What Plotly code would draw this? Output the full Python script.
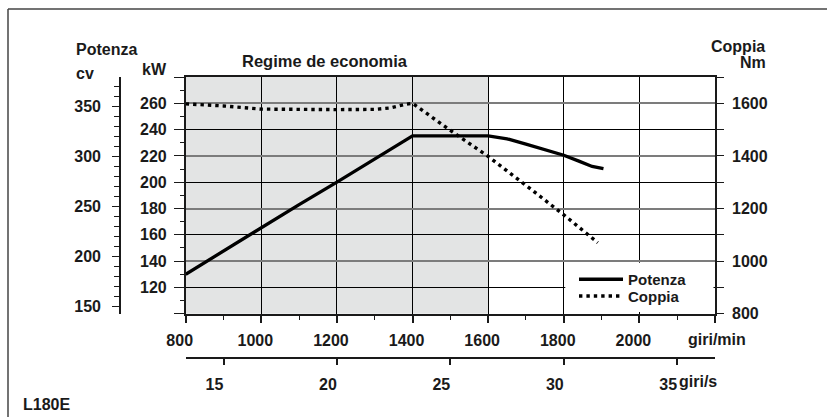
import plotly.graph_objects as go

# ---------------- data ----------------
rpm_potenza = [800, 900, 1000, 1100, 1200, 1300, 1400, 1600, 1650, 1700, 1800, 1840, 1875, 1905]
kw_potenza = [130.0, 147.8, 165.5, 183.0, 200.0, 217.5, 235.3, 235.3, 233.0, 229.0, 220.5, 216.0, 212.0, 210.3]

rpm_coppia = [800, 900, 1000, 1100, 1200, 1300, 1340, 1380, 1400, 1500, 1600, 1700, 1800, 1890]
nm_coppia = [1598, 1590, 1578, 1576, 1576, 1577, 1582, 1596, 1600, 1497, 1398, 1288, 1176, 1070]

rpm_ticks = [800, 1000, 1200, 1400, 1600, 1800, 2000, 2200]
rpm_labels = ["800", "1000", "1200", "1400", "1600", "1800", "2000", ""]
rpm_minor = [900, 1100, 1300, 1500, 1700, 1900, 2100]
rps_ticks = [15, 20, 25, 30, 35]
rps_labels = ["15", "20", "25", "30", "35"]
kw_ticks = [100, 120, 140, 160, 180, 200, 220, 240, 260, 280]
kw_labels = ["", "120", "140", "160", "180", "200", "220", "240", "260", ""]
kw_minor = [110, 130, 150, 170, 190, 210, 230, 250, 270]
nm_ticks = [800, 1000, 1200, 1400, 1600]
nm_labels = ["800", "1000", "1200", "1400", "1600"]
nm_minor = [900, 1100, 1300, 1500, 1700]
cv_ticks = [150, 200, 250, 300, 350]
cv_labels = ["150", "200", "250", "300", "350"]
cv_minor = [v for v in range(150, 380, 10) if v % 50]
economy_band = [800, 1600]

# ---------------- geometry ----------------
W, H = 827, 417
L, R, T, B = 110, 105, 77, 59
PW, PH = W - L - R, H - T - B


def px(xp):
    return (xp - L) / PW


def py(yp):
    return (H - B - yp) / PH


FONT = "Liberation Sans, Arial, sans-serif"
INK = "#1a1a1a"
GRAY = "#7c7c7c"

x_dom = [px(185.7), px(715)]
y_dom = [py(313.7), 1]
rpm_range = [800, 2200]
rps_range = [rpm_range[0] / 60, rpm_range[1] / 60]

fig = go.Figure()
fig.add_trace(go.Scatter(x=rpm_potenza, y=kw_potenza, mode="lines", name="Potenza",
                         line=dict(color="#000", width=3.3), xaxis="x", yaxis="y",
                         legend="legend"))
fig.add_trace(go.Scatter(x=rpm_coppia, y=nm_coppia, mode="lines", name="Coppia",
                         line=dict(color="#000", width=3.4, dash="3.4px,4px"),
                         xaxis="x", yaxis="y2", legend="legend2"))
# invisible helper so that the giri/s and cv axes are drawn
fig.add_trace(go.Scatter(x=rps_ticks, y=cv_ticks, mode="markers", xaxis="x2", yaxis="y3",
                         marker=dict(opacity=0, size=1), showlegend=False,
                         hoverinfo="skip"))

tickfont = dict(family=FONT, size=16, color=INK, weight="bold")
legfont = dict(family=FONT, size=15, color=INK, weight="bold")

fig.update_layout(
    width=W, height=H,
    margin=dict(l=L, r=R, t=T, b=B, autoexpand=False),
    paper_bgcolor="white", plot_bgcolor="white",
    font=dict(family=FONT, size=16, color=INK, weight="bold"),
    showlegend=True,
    legend=dict(x=px(574), y=py(263), xanchor="left", yanchor="top",
                bgcolor="rgba(0,0,0,0)", itemwidth=44, font=legfont),
    legend2=dict(x=px(574), y=py(279.7), xanchor="left", yanchor="top",
                 bgcolor="rgba(0,0,0,0)", itemwidth=44, font=legfont),
    xaxis=dict(domain=x_dom, range=rpm_range, anchor="y",
               tickmode="array", tickvals=rpm_ticks, ticktext=rpm_labels,
               ticks="outside", ticklen=7, tickwidth=1.5, tickcolor=INK,
               minor=dict(tickmode="array", tickvals=rpm_minor, ticks="outside",
                          ticklen=4, tickwidth=1.2, tickcolor=INK, showgrid=False),
               showline=True, linecolor=INK, linewidth=1.6, mirror=True,
               showgrid=True, gridcolor="#000", gridwidth=1,
               zeroline=False, tickfont=tickfont, ticklabelstandoff=4,
               ticklabelshift=-6),
    xaxis3=dict(domain=x_dom, range=rpm_range, overlaying="x", anchor="y",
                tickmode="array", tickvals=economy_band, showticklabels=False,
                ticks="", showline=False, showgrid=True, gridcolor=GRAY,
                gridwidth=2, zeroline=False),
    xaxis2=dict(domain=x_dom, range=rps_range, overlaying="x", anchor="free", position=0,
                side="bottom",
                tickmode="array", tickvals=rps_ticks, ticktext=rps_labels,
                ticks="outside", ticklen=6, tickwidth=1.5, tickcolor=INK,
                showline=True, linecolor=INK, linewidth=1.6,
                showgrid=False, zeroline=False, tickfont=tickfont,
                ticklabelstandoff=6, ticklabelshift=-9),
    yaxis=dict(domain=y_dom, range=[100, 280], anchor="x",
               tickmode="array", tickvals=kw_ticks, ticktext=kw_labels,
               ticks="outside", ticklen=10, tickwidth=1.3, tickcolor=INK,
               minor=dict(tickmode="array", tickvals=kw_minor, ticks="outside",
                          ticklen=4, tickwidth=1.2, tickcolor=INK, showgrid=False),
               showline=True, linecolor=INK, linewidth=1.6,
               showgrid=True, gridcolor="#000", gridwidth=1,
               zeroline=False, tickfont=tickfont, ticklabelstandoff=4),
    yaxis2=dict(range=[800, 1700], overlaying="y", side="right", anchor="x",
                tickmode="array", tickvals=nm_ticks, ticktext=nm_labels,
                ticks="outside", ticklen=7, tickwidth=1.3, tickcolor=INK,
                minor=dict(tickmode="array", tickvals=nm_minor, ticks="outside",
                           ticklen=7, tickwidth=1.2, tickcolor=INK, showgrid=False),
                showline=True, linecolor=INK, linewidth=1.6,
                showgrid=True, gridcolor=GRAY, gridwidth=2,
                zeroline=False, tickfont=tickfont, ticklabelstandoff=5),
    yaxis3=dict(range=[143, 379.4], overlaying="y", side="left",
                anchor="free", position=px(120),
                tickmode="array", tickvals=cv_ticks, ticktext=cv_labels,
                ticks="outside", ticklen=7, tickwidth=1.3, tickcolor=INK,
                minor=dict(tickmode="array", tickvals=cv_minor, ticks="outside",
                           ticklen=5, tickwidth=1.2, tickcolor=INK, showgrid=False),
                showline=True, linecolor=INK, linewidth=1.6,
                showgrid=False, zeroline=False, tickfont=tickfont,
                ticklabelstandoff=8),
)

shapes = [
    # economy band shading
    dict(type="rect", xref="x", yref="y domain", x0=economy_band[0], x1=economy_band[1],
         y0=0, y1=1, fillcolor="#e3e4e4", line=dict(width=0), layer="below"),
    # white legend box
    dict(type="rect", xref="x", yref="y2", x0=1804, x1=2196, y0=806, y1=994,
         fillcolor="white", line=dict(width=0), layer="above"),
    # outer frame (top and left)
    dict(type="line", xref="paper", yref="paper", x0=px(8), x1=px(830), y0=py(9), y1=py(9),
         line=dict(color="#444", width=1.5)),
    dict(type="line", xref="paper", yref="paper", x0=px(8), x1=px(8), y0=py(9), y1=py(420),
         line=dict(color="#444", width=1.5)),
]


def ann(text, xp, yp, xanchor="left", size=16):
    return dict(text=text, xref="paper", yref="paper", x=px(xp), y=py(yp),
                xanchor=xanchor, yanchor="middle", showarrow=False,
                font=dict(family=FONT, size=size, color=INK, weight="bold"))


annotations = [
    ann("Potenza", 74, 50),
    ann("cv", 74, 73),
    ann("kW", 169, 70, xanchor="right"),
    ann("Regime de economia", 325, 61, xanchor="center", size=16.5),
    ann("Coppia", 767, 46, xanchor="right"),
    ann("Nm", 768, 63, xanchor="right"),
    ann("giri/min", 717, 339, xanchor="center"),
    ann("giri/s", 677, 381),
    ann("L180E", 21, 404),
]

fig.update_layout(shapes=shapes, annotations=annotations)
fig.write_html("out.html")
